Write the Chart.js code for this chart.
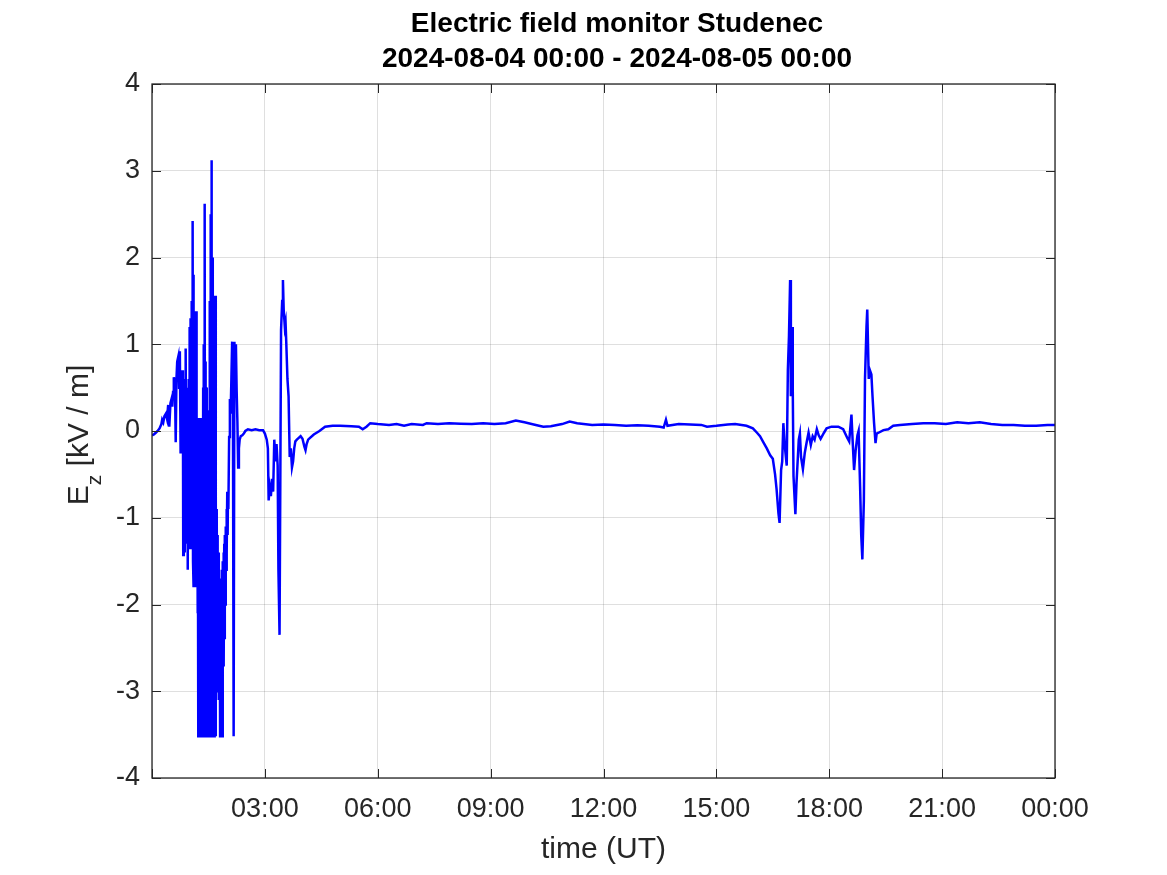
<!DOCTYPE html>
<html>
<head>
<meta charset="utf-8">
<script src="https://cdn.jsdelivr.net/npm/chart.js@4/dist/chart.umd.min.js"></script>
<style>
  html, body { margin: 0; padding: 0; background: #fff; }
  #wrap { width: 1167px; height: 875px; }
</style>
</head>
<body>
<div id="wrap"><canvas id="myChart" width="1167" height="875"></canvas></div>
<script>
const titleLines = ["Electric field monitor Studenec", "2024-08-04 00:00 - 2024-08-05 00:00"];
const xTitle = "time (UT)";

const xTickHours = [0, 3, 6, 9, 12, 15, 18, 21, 24];
const yTicks = [-4, -3, -2, -1, 0, 1, 2, 3, 4];

// hours since 2024-08-04 00:00 UT
const timeHours = [
  0.00, 0.05, 0.10, 0.15, 0.20, 0.25, 0.27, 0.30, 0.33, 0.37, 0.40, 0.43, 0.46, 0.49, 0.52, 0.54, 0.56, 0.58, 0.61, 0.63,
  0.65, 0.67, 0.70, 0.72, 0.74, 0.76, 0.78, 0.80,
  0.82, 0.83, 0.84, 0.85, 0.86, 0.87, 0.88, 0.89, 0.90, 0.91, 0.92, 0.93, 0.94, 0.95, 0.96, 0.97, 0.98, 0.99,
  1.00, 1.01, 1.02, 1.03, 1.04, 1.05, 1.06, 1.07, 1.08, 1.09, 1.10, 1.11, 1.12, 1.13, 1.14, 1.15, 1.16, 1.17, 1.18, 1.19,
  1.20, 1.21, 1.22, 1.23, 1.24, 1.25, 1.26, 1.27, 1.28, 1.29, 1.30, 1.31, 1.32, 1.33, 1.34, 1.35, 1.36, 1.37, 1.38, 1.39,
  1.40, 1.41, 1.42, 1.43, 1.44, 1.45, 1.46, 1.47, 1.48, 1.49, 1.50, 1.51, 1.52, 1.53, 1.54, 1.55, 1.56, 1.57, 1.58, 1.59,
  1.60, 1.61, 1.62, 1.63, 1.64, 1.65, 1.66, 1.67, 1.68, 1.69, 1.70, 1.71, 1.72, 1.73, 1.74, 1.75, 1.76, 1.77, 1.78, 1.79,
  1.80, 1.81, 1.82, 1.83, 1.84, 1.85, 1.86, 1.87, 1.88, 1.89, 1.90, 1.91, 1.92, 1.93, 1.94, 1.95, 1.96, 1.97, 1.98, 1.99,
  2.00, 2.01, 2.02, 2.03,
  2.05, 2.07, 2.09, 2.11, 2.13, 2.15, 2.17, 2.19, 2.21, 2.23, 2.25,
  2.27, 2.29, 2.31, 2.33, 2.36, 2.40, 2.44, 2.48, 2.55, 2.65, 2.75, 2.85, 2.95, 3.00, 3.05, 3.08, 3.10, 3.13, 3.16, 3.19,
  3.22, 3.25, 3.28, 3.31, 3.34, 3.36, 3.39, 3.41, 3.43, 3.46, 3.48, 3.50, 3.53, 3.55, 3.57, 3.60, 3.63, 3.66, 3.69, 3.72,
  3.75, 3.78, 3.81, 3.85, 3.90, 3.95, 4.00, 4.05, 4.08, 4.11, 4.15, 4.20, 4.30, 4.45, 4.60, 4.80, 5.00, 5.30, 5.50, 5.60,
  5.70, 5.80, 6.00, 6.30, 6.50, 6.70, 6.90, 7.20, 7.30, 7.60, 7.90, 8.20, 8.50, 8.80, 9.10, 9.40, 9.67, 9.90, 10.20, 10.40,
  10.60, 10.90, 11.10, 11.30, 11.70, 12.00, 12.30, 12.60, 12.90, 13.20, 13.50, 13.60, 13.66, 13.70, 14.00, 14.30, 14.60, 14.75, 15.00, 15.30,
  15.50, 15.80, 15.97, 16.08, 16.16, 16.25, 16.34, 16.43, 16.50, 16.56, 16.60, 16.65, 16.68, 16.72, 16.75, 16.78, 16.82, 16.87, 16.90, 16.93,
  16.96, 16.98, 17.01, 17.03, 17.05, 17.10, 17.13, 17.19, 17.22, 17.25, 17.30, 17.35, 17.40, 17.45, 17.51, 17.56, 17.61, 17.67, 17.72, 17.77,
  17.86, 17.93, 18.06, 18.24, 18.37, 18.48, 18.53, 18.59, 18.62, 18.66, 18.70, 18.75, 18.78, 18.82, 18.85, 18.88, 18.92, 18.95, 18.99, 19.01,
  19.05, 19.08, 19.12, 19.15, 19.19, 19.23, 19.26, 19.31, 19.44, 19.57, 19.70, 19.88, 20.20, 20.50, 20.80, 21.10, 21.40, 21.70, 22.00, 22.30,
  22.60, 22.90, 23.20, 23.50, 23.80, 24.00
];

// vertical electric field, kV/m
const ezValues = [
  -0.05, -0.04, -0.02, 0.00, 0.03, 0.08, 0.13, 0.10, 0.17, 0.20, 0.14, 0.30, 0.05, 0.32, 0.37, 0.28, 0.45, 0.62, 0.55, -0.13,
  0.60, 0.80, 0.86, 0.50, 0.92, -0.26, 0.70, 0.40,
  0.70, -1.43, 0.60, -1.20, 0.50, -1.40, 0.30, -0.80, 0.95, -1.10, 0.50, -1.30, 0.40, -1.60, 0.20, -1.00, 0.60, -0.60,
  1.20, -1.35, 1.30, -0.50, 1.00, -1.35, 1.50, -1.00, 2.42, -1.50, 1.80, -1.80, 1.00, -1.80, 0.60, -1.70, 1.38, -1.20, 1.38, -1.80,
  0.15, -2.10, 0.15, -3.52, 0.15, -3.52, 0.10, -2.10, 0.15, -2.40, 0.10, -2.10, 0.15, -3.52, -0.50, -3.52, 0.50, -3.52, 1.00, -3.52,
  2.62, -3.52, 0.80, -3.52, 0.50, -3.52, 0.50, -3.52, -0.30, -3.52, 0.24, -3.52, -0.40, -3.52, 1.50, -3.52, 2.50, -3.52, 3.12, -3.52,
  2.00, -3.52, 1.78, -3.52, 1.56, -3.52, 1.00, -3.52, 1.56, -3.52, -0.75, -3.00, -0.90, -2.50, -1.20, -3.00, -1.40, -3.10, -1.60, -2.80,
  -1.70, -3.52, -1.70, -3.52, -1.80, -3.52, -1.60, -3.52, -1.50, -2.70, -1.40, -2.70, -1.30, -2.40, -1.20, -2.00, -1.10, -1.60, -0.90, -1.40,
  -0.70, -1.20, -0.70, -0.90,
  -0.07, 0.37, 0.20, 0.60, 1.03, 0.50, -3.52, 1.03, 0.50, 1.00, 0.46,
  0.10, -0.42, -0.20, -0.10, -0.06, -0.05, -0.03, 0.00, 0.02, 0.01, 0.02, 0.01, 0.01, -0.03, -0.10, -0.20, -0.80, -0.65, -0.75, -0.55,
  -0.70, -0.10, -0.35, -0.15, -0.40, -1.60, -2.35, -0.60, 1.16, 1.50, 1.74, 1.40, 1.20, 1.25, 1.00, 0.60, 0.40, -0.30, -0.20, -0.42,
  -0.35, -0.20, -0.12, -0.10, -0.08, -0.06, -0.09, -0.18, -0.22, -0.15, -0.10, -0.08, -0.04, 0.00, 0.05, 0.06, 0.06, 0.055, 0.05, 0.02,
  0.05, 0.09, 0.08, 0.07, 0.08, 0.06, 0.08, 0.07, 0.09, 0.08, 0.09, 0.085, 0.08, 0.09, 0.08, 0.09, 0.12, 0.10, 0.07, 0.05,
  0.055, 0.08, 0.11, 0.09, 0.07, 0.075, 0.07, 0.06, 0.065, 0.06, 0.05, 0.04, 0.13, 0.06, 0.08, 0.075, 0.07, 0.05, 0.06, 0.075,
  0.08, 0.06, 0.03, -0.02, -0.06, -0.13, -0.20, -0.28, -0.32, -0.50, -0.67, -0.95, -1.06, -0.45, -0.35, 0.09, -0.18, -0.40, 0.70, 1.10,
  1.74, 0.40, 1.20, 0.50, -0.52, -0.96, -0.60, -0.10, -0.03, -0.30, -0.44, -0.25, -0.13, -0.02, -0.16, -0.06, -0.10, 0.02, -0.05, -0.09,
  -0.02, 0.03, 0.05, 0.05, 0.02, -0.08, -0.12, 0.19, -0.10, -0.45, -0.23, -0.05, 0.00, -0.64, -1.20, -1.48, -0.80, 0.60, 1.20, 1.40,
  0.60, 0.70, 0.65, 0.40, 0.10, -0.14, -0.03, -0.02, 0.01, 0.02, 0.06, 0.07, 0.08, 0.09, 0.09, 0.08, 0.10, 0.09, 0.10, 0.08,
  0.07, 0.07, 0.06, 0.06, 0.07, 0.07
];

const axisColor = "#262626";
const fontFamily = "'Liberation Sans', Arial, Helvetica, sans-serif";

const points = timeHours.map((h, i) => ({ x: h, y: ezValues[i] }));

function hourLabel(v) {
  if (v === 0) return "";
  const hh = v % 24;
  return (hh < 10 ? "0" : "") + hh + ":00";
}

// MATLAB-like decorations: box, inward ticks, titles, subscript y label
const matlabLook = {
  id: "matlabLook",
  afterDraw(chart) {
    const { ctx, chartArea: a, scales } = chart;
    ctx.save();
    ctx.strokeStyle = axisColor;
    ctx.lineWidth = 1;
    ctx.beginPath();
    const tl = 9;
    xTickHours.forEach((h) => {
      const px = Math.round(scales.x.getPixelForValue(h)) + 0.5;
      ctx.moveTo(px, a.bottom); ctx.lineTo(px, a.bottom - tl);
      ctx.moveTo(px, a.top); ctx.lineTo(px, a.top + tl);
    });
    yTicks.forEach((v) => {
      const py = Math.round(scales.y.getPixelForValue(v)) + 0.5;
      ctx.moveTo(a.left, py); ctx.lineTo(a.left + tl, py);
      ctx.moveTo(a.right, py); ctx.lineTo(a.right - tl, py);
    });
    ctx.stroke();
    ctx.lineWidth = 1.3;
    ctx.strokeRect(a.left, a.top, a.right - a.left, a.bottom - a.top);

    // title
    ctx.fillStyle = "#000";
    ctx.textAlign = "center";
    ctx.textBaseline = "alphabetic";
    ctx.font = "bold 28px " + fontFamily;
    ctx.fillText(titleLines[0], 617, 32);
    ctx.fillText(titleLines[1], 617, 67);

    // x title
    ctx.fillStyle = axisColor;
    ctx.font = "30px " + fontFamily;
    ctx.fillText(xTitle, (a.left + a.right) / 2, 858);

    // y title: E_z [kV / m]
    ctx.translate(88, (a.top + a.bottom) / 2 + 4);
    ctx.rotate(-Math.PI / 2);
    ctx.textAlign = "left";
    const big = "30px " + fontFamily;
    const small = "21px " + fontFamily;
    ctx.font = big;
    const wE = ctx.measureText("E").width;
    const wRest = ctx.measureText(" [kV / m]").width;
    ctx.font = small;
    const wZ = ctx.measureText("z").width;
    let x0 = -(wE + wZ + wRest) / 2;
    ctx.font = big;
    ctx.fillText("E", x0, 0);
    ctx.font = small;
    ctx.fillText("z", x0 + wE, 13);
    ctx.font = big;
    ctx.fillText(" [kV / m]", x0 + wE + wZ, 0);
    ctx.restore();
  },
};

const ctx = document.getElementById("myChart").getContext("2d");
new Chart(ctx, {
  type: "line",
  data: {
    datasets: [{
      data: points,
      borderColor: "#0000ff",
      borderWidth: 2.5,
      pointRadius: 0,
      tension: 0,
      fill: false,
    }],
  },
  options: {
    responsive: false,
    animation: false,
    devicePixelRatio: 1,
    layout: { padding: { left: 0, top: 84, right: 112, bottom: 0 } },
    plugins: {
      legend: { display: false },
      tooltip: { enabled: false },
      title: { display: false },
    },
    scales: {
      x: {
        type: "linear",
        min: 0,
        max: 24,
        afterFit: (s) => { s.height = 97; },
        afterBuildTicks: (s) => { s.ticks = xTickHours.map((v) => ({ value: v })); },
        grid: { color: "rgba(38,38,38,0.15)", drawTicks: false },
        border: { display: false },
        ticks: {
          autoSkip: false,
          maxRotation: 0,
          padding: 15,
          color: axisColor,
          font: { family: fontFamily, size: 27 },
          callback: hourLabel,
        },
      },
      y: {
        min: -4,
        max: 4,
        afterFit: (s) => { s.width = 152; },
        afterBuildTicks: (s) => { s.ticks = yTicks.map((v) => ({ value: v })); },
        grid: { color: "rgba(38,38,38,0.15)", drawTicks: false },
        border: { display: false },
        ticks: {
          padding: 12,
          color: axisColor,
          font: { family: fontFamily, size: 27 },
          callback: (v) => String(v),
        },
      },
    },
  },
  plugins: [matlabLook],
});
</script>
</body>
</html>
